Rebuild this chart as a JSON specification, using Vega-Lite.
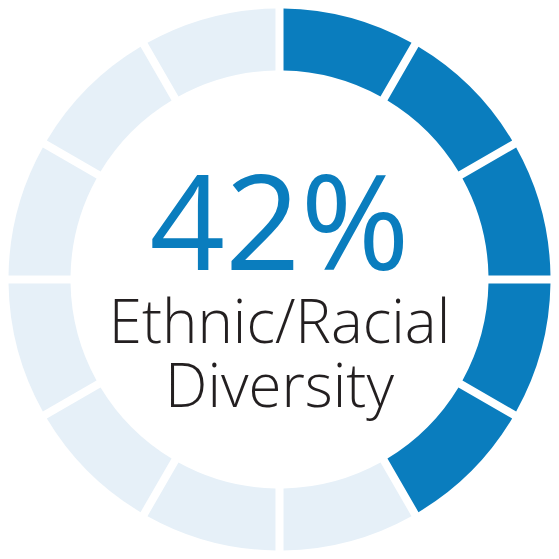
{
  "$schema": "https://vega.github.io/schema/vega-lite/v6.json",
  "width": 559,
  "height": 559,
  "autosize": {"type": "fit", "contains": "padding"},
  "padding": 0,
  "background": "white",
  "view": {"stroke": null},
  "layer": [
    {
      "data": {"values": [
        {"seg": 1, "status": "diverse", "value": 1},
        {"seg": 2, "status": "diverse", "value": 1},
        {"seg": 3, "status": "diverse", "value": 1},
        {"seg": 4, "status": "diverse", "value": 1},
        {"seg": 5, "status": "diverse", "value": 1},
        {"seg": 6, "status": "other", "value": 1},
        {"seg": 7, "status": "other", "value": 1},
        {"seg": 8, "status": "other", "value": 1},
        {"seg": 9, "status": "other", "value": 1},
        {"seg": 10, "status": "other", "value": 1},
        {"seg": 11, "status": "other", "value": 1},
        {"seg": 12, "status": "other", "value": 1}
      ]},
      "mark": {"type": "arc", "radius": 271, "radius2": 209, "padAngle": 0.0235},
      "encoding": {
        "theta": {"field": "value", "type": "quantitative", "stack": true},
        "order": {"field": "seg", "type": "quantitative"},
        "color": {
          "field": "status", "type": "nominal",
          "scale": {"domain": ["diverse", "other"], "range": ["#0A7DBE", "#E6F0F8"]},
          "legend": null
        }
      }
    },
    {
      "data": {"values": [
        {"line": 1, "text": "42%"},
        {"line": 2, "text": "Ethnic/Racial"},
        {"line": 3, "text": "Diversity"}
      ]},
      "layer": [
        {
          "transform": [{"filter": "datum.line == 1"}],
          "mark": {"type": "text", "align": "center", "baseline": "alphabetic", "font": "Open Sans", "fontWeight": 500, "fontSize": 132, "color": "#0A7DBE"},
          "encoding": {
            "y": {"field": "line", "type": "ordinal", "scale": {"type": "point", "domain": [1, 2, 3], "range": [270, 407], "padding": 0}, "axis": null},
            "text": {"field": "text"}
          }
        },
        {
          "transform": [{"filter": "datum.line == 2"}],
          "mark": {"type": "text", "align": "center", "baseline": "alphabetic", "dy": 4, "font": "Open Sans", "fontWeight": 300, "fontSize": 60, "color": "#231F20"},
          "encoding": {
            "y": {"field": "line", "type": "ordinal", "scale": {"type": "point", "domain": [1, 2, 3], "range": [270, 407], "padding": 0}, "axis": null},
            "text": {"field": "text"}
          }
        },
        {
          "transform": [{"filter": "datum.line == 3"}],
          "mark": {"type": "text", "align": "center", "baseline": "alphabetic", "font": "Open Sans", "fontWeight": 300, "fontSize": 60, "color": "#231F20"},
          "encoding": {
            "y": {"field": "line", "type": "ordinal", "scale": {"type": "point", "domain": [1, 2, 3], "range": [270, 407], "padding": 0}, "axis": null},
            "text": {"field": "text"}
          }
        }
      ]
    }
  ]
}
